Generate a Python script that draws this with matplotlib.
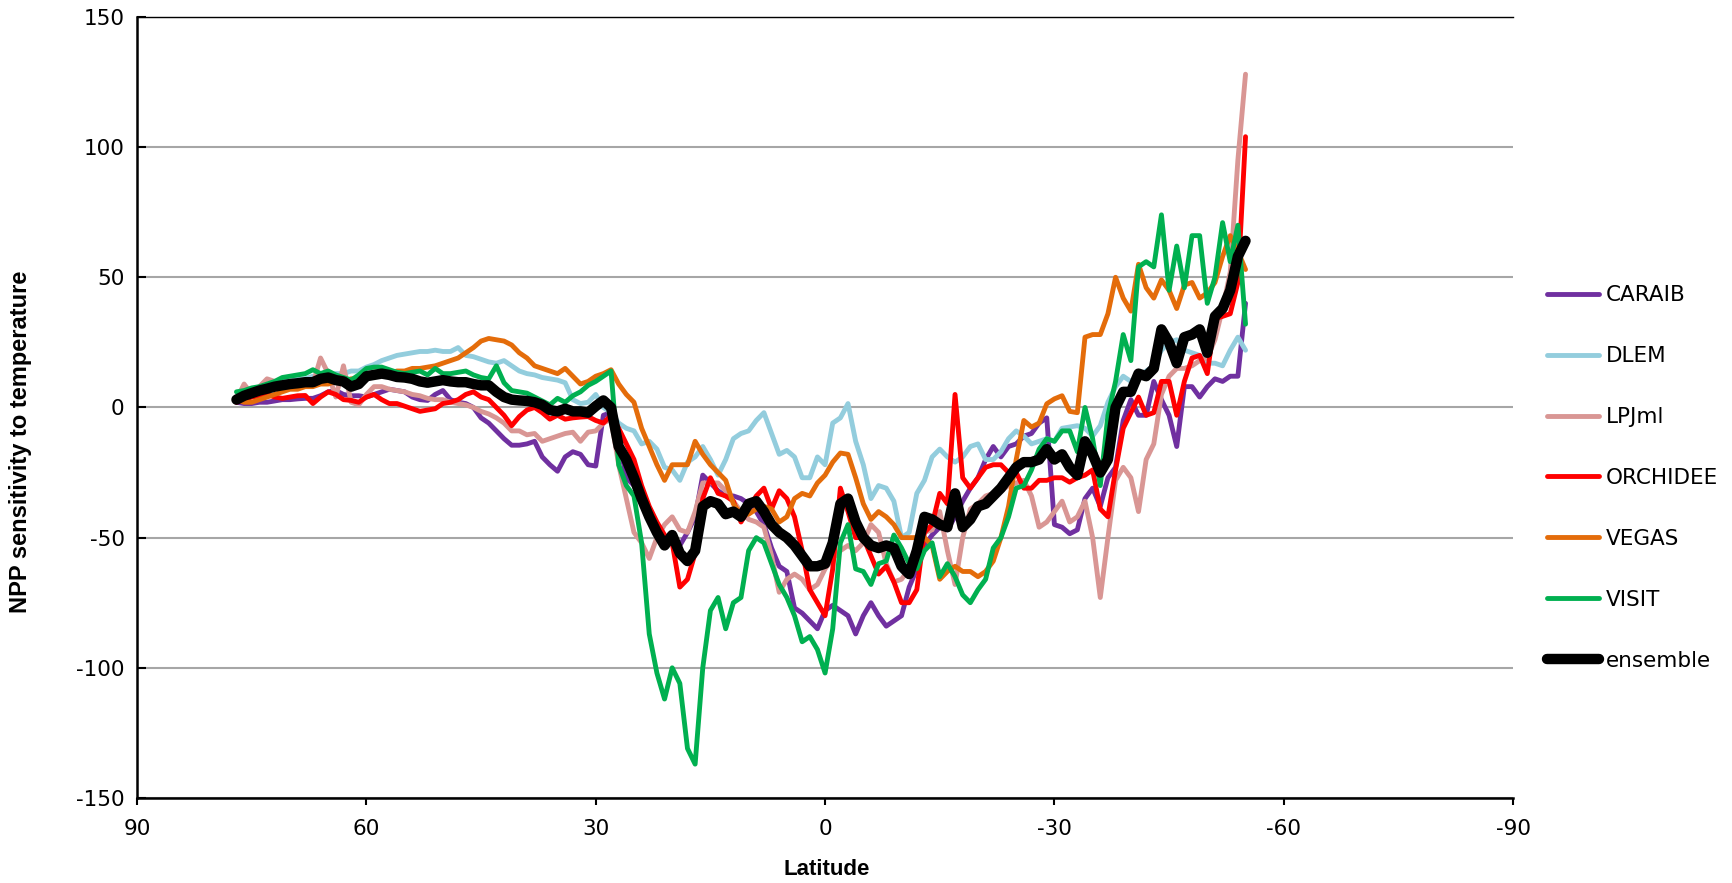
import matplotlib
matplotlib.use('Agg')
import matplotlib.pyplot as plt
import numpy as np

# latitude grid, north to south
lat = np.arange(77, -56, -1)

caraib = [2, 1.5, 1.5, 2, 2, 2.5, 3, 3, 3.3, 3.5,
          3.5, 4.5, 6, 6.5, 5, 4.5, 4.5, 4, 5, 6,
          7, 6.5, 6, 4, 3, 2.7, 5, 6.5, 3, 2,
          1.5, 0, -4, -6, -9, -12, -14.5, -14.5, -14, -13,
          -19, -22, -24.5, -19, -17, -18, -22, -22.5, -3, -2,
          -12, -27, -30, -37, -40, -46, -52, -50, -53, -48,
          -42, -26, -29, -32, -34, -34, -35, -37, -40, -45,
          -54, -61, -63, -77, -79, -82, -85, -78, -76, -78,
          -80, -87, -80, -75, -80, -84, -82, -80, -69, -62,
          -53, -49, -46, -47, -42, -36, -31, -27, -20, -15,
          -19, -15, -14, -11, -10, -6, -4, -45, -46, -48.5,
          -47, -35, -31, -38, -27, -23, -5, 3, -3, -3,
          10, 3, -3, -15, 8, 8, 4, 8, 11, 10,
          12, 12, 40]

dlem = [4, 5, 6, 7, 8, 9, 10, 10, 11, 11,
        12, 12, 12, 13, 13, 14, 14, 15.5, 16.5, 18,
        19, 20, 20.5, 21, 21.5, 21.5, 22, 21.5, 21.5, 23,
        20, 19.5, 18.5, 17.5, 17, 18, 16, 14, 13, 12.5,
        11.5, 11, 10.5, 9.5, 3, 1.5, 2, 5, 0, -2,
        -6, -8, -9, -14, -13, -16, -23, -24, -28, -21,
        -19, -15, -20, -26, -20, -12, -10, -9, -5, -2,
        -10, -18, -16.5, -19, -27, -27, -19, -22, -6, -4,
        1.5, -13, -22, -35, -30, -31, -36, -50, -48, -33,
        -28, -19, -16, -19, -21, -19, -15, -14, -20, -20,
        -17, -12, -9, -11, -14, -13, -12, -13, -8, -7.5,
        -7, -8, -11, -7, 2, 8, 12, 10, 12, 14,
        16, 22, 25, 26, 22, 21, 20, 17, 17, 16,
        22, 27, 22]

lpjml = [3, 9, 5, 8, 11, 10, 7, 8, 8, 9,
         9, 19, 13, 4, 16, 2, 1, 5, 8, 8,
         7, 6.5, 6, 5, 4.5, 3.5, 3, 3, 2, 1.5,
         1, 0, -1.5, -2.5, -4, -6, -9, -9, -10.5, -10,
         -13, -12, -11, -10, -9.5, -13, -9.5, -9, -6, -4.5,
         -22, -35, -48, -52, -58, -50, -45, -42, -47, -48,
         -40, -29, -29, -29, -32, -36, -40, -43, -44, -46,
         -57, -71, -66, -64, -66, -70, -68, -62, -58, -55,
         -53, -55, -52, -45, -48, -60, -67, -66, -62, -52,
         -48, -47, -40, -55, -68, -50, -39, -37, -34, -33,
         -32, -30, -29, -28, -34, -46, -44, -40, -36, -44,
         -42, -36, -50, -73, -50, -28, -23, -27, -40, -20,
         -14, 5, 12, 15, 15, 16, 18, 19, 26, 38,
         52, 95, 128]

orchidee = [2, 3, 4, 4.5, 5, 4, 3.5, 4, 4.5, 4.6,
            1.5, 4, 6, 5, 3, 2.7, 2, 4, 5, 3,
            1.5, 1.5, 0.5, -0.5, -1.5, -1, -0.5, 1.5, 2, 3,
            5, 6, 4, 3, 0, -3, -7, -3.5, -1, 0,
            -2, -4.5, -3, -4.5, -4, -3.7, -3.5, -5, -6, -3,
            -8, -14, -20, -30, -38, -44, -49, -52, -69, -66,
            -56, -35, -27, -33, -34, -36, -44, -39, -34, -31,
            -39, -32, -35, -42, -55, -70, -75, -80, -62, -31,
            -40, -50, -50, -57, -64, -61, -67, -75, -75, -70,
            -48, -45, -33, -37, 5, -27, -31, -27, -23, -22,
            -22, -25, -25, -31, -31, -28, -28, -27, -27, -28.7,
            -27, -26, -24, -39, -42, -24, -8, -2, 4, -3,
            -2, 10, 10, -3, 10, 19, 20, 13, 34, 35,
            36, 48, 104]

vegas = [3, 2, 2, 3, 4, 5, 6, 7, 7, 8,
         8, 9, 9, 10, 10, 11, 11, 12, 12, 13,
         13, 14, 14, 15, 15, 15.5, 16, 17, 18, 19,
         21, 23, 25.5, 26.5, 26, 25.5, 24, 21, 19, 16,
         15, 14, 13, 15, 12, 9, 10, 12, 13, 14.5,
         9, 5, 2, -8, -15, -22, -28, -22, -22, -22,
         -13, -18, -22, -25, -28, -37, -41, -41, -39, -38,
         -39, -44, -42, -35, -33, -34, -29, -26, -21, -17.5,
         -18, -27, -37, -43, -40, -42, -45, -50, -50, -50,
         -50, -53, -66, -63, -61, -63, -63, -65, -63, -59,
         -50, -38, -20, -5, -7.5, -6, 1.4, 3.3, 4.5, -1.5,
         -2, 27, 28, 28, 36, 50, 42, 37, 55, 46,
         42, 49, 45, 38, 47, 48, 42, 44, 48, 58,
         66, 60, 53]

visit = [6, 6.5, 7.5, 8, 9, 10, 11.5, 12, 12.5, 13,
         14.5, 13, 14, 12.5, 11.5, 10.5, 12.5, 15, 15.5, 15.5,
         14.5, 13.5, 13, 13.5, 14, 12.5, 15, 13, 13, 13.5,
         14, 12.5, 11.5, 11, 16, 9.5, 6.5, 6, 5.5, 4,
         2.5, 1, 3.5, 2, 4.5, 6, 8.5, 10, 12, 14,
         -22, -30, -34, -52, -87, -102, -112, -100, -106, -131,
         -137, -100, -78, -73, -85, -75, -73, -55, -50, -52,
         -60, -68, -73, -80, -90, -88, -93, -102, -85, -52,
         -45, -62, -63, -68, -60, -59, -49, -54, -60, -62,
         -55, -52, -65, -60, -65, -72, -75, -70, -66, -54,
         -50, -42, -31, -30, -24, -16, -12, -13, -9, -9,
         -17, 0, -12, -30, -3, 10, 28, 18, 54, 56,
         54, 74, 45, 62, 46, 66, 66, 40, 50, 71,
         56, 70, 32]

ensemble = [3, 4.5, 5.5, 6.5, 7.2, 8, 8.5, 9, 9.3, 9.7,
            9.7, 11, 11.5, 10.5, 10, 8, 9, 12, 12.5, 13,
            12.5, 11.7, 11.5, 11, 10, 9.5, 10, 10.5, 10, 9.7,
            9.7, 9, 8.5, 8.5, 6, 4, 3, 2.7, 2.5, 2,
            1, -1, -1.5, -0.5, -1.5, -1.5, -2, 0.5, 2.7, 0,
            -15, -20, -27, -35, -42, -48, -53, -49, -56, -59,
            -55, -38, -36, -37, -41, -40, -42, -37, -36, -40,
            -45, -48, -50, -53, -57, -61, -61, -60, -52, -37,
            -35, -44, -50, -53, -54, -53, -54, -61, -64, -55,
            -42, -43, -45, -46, -33, -46, -43, -38, -37, -34,
            -31, -27, -23, -21, -21, -20, -16, -20, -18, -23,
            -26, -13, -18, -25, -20, 0, 6, 6, 13, 12,
            15, 30, 25, 17, 27, 28, 30, 21, 35, 38,
            45, 58, 64]

models = ['CARAIB', 'DLEM', 'LPJml', 'ORCHIDEE', 'VEGAS', 'VISIT']
series = [caraib, dlem, lpjml, orchidee, vegas, visit]
colors = ['#7030A0', '#93CDDD', '#D99694', '#FF0000', '#E46C0A', '#00B050']

xticks = [90, 60, 30, 0, -30, -60, -90]
yticks = [-150, -100, -50, 0, 50, 100, 150]


def mkplot():
    plt.rcParams['axes.unicode_minus'] = False
    plt.rcParams['font.family'] = ['DejaVu Sans']

    fig = plt.figure(figsize=(17.33, 8.83), dpi=100)
    ax = fig.add_axes([0.0791, 0.0963, 0.794, 0.8845])

    for vals, name, c in zip(series, models, colors):
        ax.plot(lat, vals, color=c, lw=3.5, label=name,
                solid_joinstyle='round', solid_capstyle='round')
    ax.plot(lat, ensemble, color='black', lw=7.5, label='ensemble',
            solid_joinstyle='round', solid_capstyle='round')

    ax.set_xlim(90, -90)
    ax.set_ylim(-150, 150)
    ax.set_xticks(xticks)
    ax.set_yticks(yticks)
    ax.set_xticklabels([str(t) for t in xticks], fontsize=15.5)
    ax.set_yticklabels([str(t) for t in yticks], fontsize=15.5)

    ax.grid(axis='y', color='#A6A6A6', lw=1.5)
    ax.set_axisbelow(True)
    for side in ['left', 'bottom', 'top']:
        ax.spines[side].set_color('black')
        ax.spines[side].set_linewidth(1.8)
    ax.spines['top'].set_linewidth(1.0)
    ax.spines['right'].set_visible(False)

    ax.tick_params(axis='y', direction='in', length=6.5, width=1.5, pad=9)
    ax.tick_params(axis='x', direction='out', length=5, width=1.5, pad=10)

    # axis titles placed by their centres
    ax.set_xlabel('Latitude', fontsize=16, fontweight='bold', va='center',
                  family=['Liberation Sans', 'DejaVu Sans'])
    ax.xaxis.set_label_coords(0.501, -0.092)
    ax.set_ylabel('NPP sensitivity to temperature', fontsize=17, fontweight='bold',
                  va='center', ha='center',
                  family=['Liberation Sans Narrow', 'Liberation Sans', 'DejaVu Sans'])
    ax.yaxis.set_label_coords(-0.0845, 0.456)

    ax.legend(loc='center left', bbox_to_anchor=(0.8927, 0.4587),
              bbox_transform=fig.transFigure, frameon=False, fontsize=15.5,
              handlelength=2.4, handletextpad=0.34, labelspacing=1.9,
              borderpad=0, borderaxespad=0)

    fig.savefig('out.png', dpi=100)


if __name__ == "__main__":
    mkplot()
